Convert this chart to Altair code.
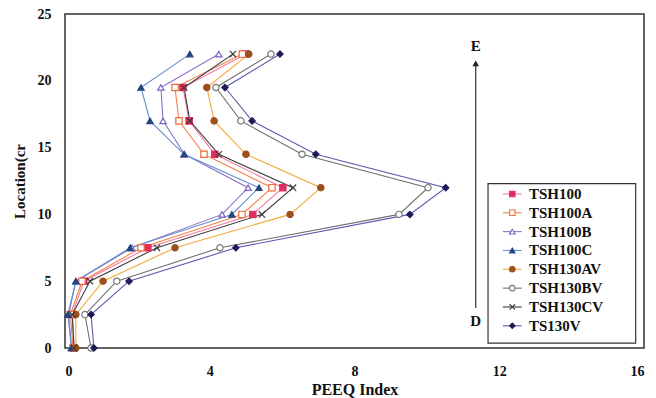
import altair as alt
import pandas as pd

# Depth positions along the section (cm)
locations = [0, 2.5, 5, 7.5, 10, 12, 14.5, 17, 19.5, 22]

series = ["TSH100", "TSH100A", "TSH100B", "TSH100C",
          "TSH130AV", "TSH130BV", "TSH130CV", "TS130V"]

# PEEQ index per specimen, listed in the same order as `locations`
tsh100 = [0.25, 0.2, 0.52, 2.29, 5.19, 6.02, 4.14, 3.43, 3.26, 5.0]
tsh100a = [0.22, 0.15, 0.47, 2.1, 4.89, 5.72, 3.84, 3.15, 3.04, 4.9]
tsh100b = [0.18, 0.1, 0.3, 1.85, 4.34, 5.06, 3.3, 2.71, 2.65, 4.25]
tsh100c = [0.18, 0.08, 0.3, 1.8, 4.61, 5.36, 3.29, 2.35, 2.1, 3.45]
tsh130av = [0.3, 0.3, 1.05, 3.04, 6.22, 7.07, 5.0, 4.12, 3.92, 5.08]
tsh130bv = [0.72, 0.55, 1.43, 4.28, 9.23, 10.03, 6.55, 4.86, 4.17, 5.69]
tsh130cv = [0.25, 0.2, 0.69, 2.54, 5.44, 6.3, 4.25, 3.45, 3.29, 4.64]
ts130v = [0.8, 0.72, 1.77, 4.72, 9.53, 10.52, 6.93, 5.17, 4.42, 5.94]

values = [tsh100, tsh100a, tsh100b, tsh100c, tsh130av, tsh130bv, tsh130cv, ts130v]

line_colors = ["#f27a9c", "#f3824f", "#8a74c8", "#6a8fd0",
               "#f2a93a", "#707070", "#3c3c3c", "#5a5ab4"]
stroke_colors = ["#e0305f", "#ef6a36", "#7c62c2", "#24457f",
                 "#9c4f1e", "#777777", "#3a3a3a", "#1c1c58"]
fill_colors = ["#e0305f", "#ffffff", "#ffffff", "#24457f",
               "#9c4f1e", "#ffffff", "#ffffff", "#1c1c58"]
shapes = ["square", "square", "triangle-up", "triangle-up",
          "circle", "circle", "M-1,-1L1,1M-1,1L1,-1", "diamond"]

rows = []
for s, vals in zip(series, values):
    for loc, v in zip(locations, vals):
        rows.append({"series": s, "loc": loc, "peeq": v})
df = pd.DataFrame(rows)

FONT = "Liberation Serif"

x_scale = alt.Scale(domain=[0, 16], nice=False, zero=False)
y_scale = alt.Scale(domain=[0, 25], nice=False, zero=False)

color_line = alt.Color("series:N", scale=alt.Scale(domain=series, range=line_colors), legend=None)
stroke_pt = alt.Stroke("series:N", scale=alt.Scale(domain=series, range=stroke_colors), legend=None)
fill_pt = alt.Fill("series:N", scale=alt.Scale(domain=series, range=fill_colors), legend=None)
shape_pt = alt.Shape("series:N", scale=alt.Scale(domain=series, range=shapes), legend=None)

x_enc = alt.X("peeq:Q", scale=x_scale,
              axis=alt.Axis(title="PEEQ Index", values=[0, 4, 8, 12, 16], grid=False,
                            ticks=False, domain=False, labelPadding=16,
                            labelFont=FONT, labelFontSize=14, labelFontWeight="bold",
                            labelColor="#111", titleFont=FONT, titleFontSize=16,
                            titleFontWeight="bold", titleColor="#111", titlePadding=3))
y_enc = alt.Y("loc:Q", scale=y_scale,
              axis=alt.Axis(title="Location(cr", values=[0, 5, 10, 15, 20, 25], grid=False,
                            ticks=False, domain=False, labelPadding=14,
                            labelFont=FONT, labelFontSize=14, labelFontWeight="bold",
                            labelColor="#111", titleFont=FONT, titleFontSize=15,
                            titleFontWeight="bold", titleColor="#111", titlePadding=10))

lines = alt.Chart(df).mark_line(strokeWidth=1.1).encode(
    x=x_enc, y=y_enc, color=color_line, detail="series:N", order="loc:Q"
)
points = alt.Chart(df).mark_point(size=40, strokeWidth=1.2, filled=False, opacity=1).encode(
    x="peeq:Q", y="loc:Q", stroke=stroke_pt, fill=fill_pt, shape=shape_pt
)

# Direction arrow from D to E
arrow_x = [11.35]
arrow_from = [3.0]
arrow_to = [21.3]
arrow_df = pd.DataFrame({"x": arrow_x, "y1": arrow_from, "y2": arrow_to})
arrow_line = alt.Chart(arrow_df).mark_rule(color="#333", strokeWidth=1.2).encode(
    x="x:Q", y="y1:Q", y2="y2:Q")
arrow_head = alt.Chart(arrow_df).mark_point(shape="triangle-up", size=45, filled=True,
                                            color="#222", opacity=1).encode(
    x="x:Q", y="y2:Q")

end_labels = pd.DataFrame({"x": [11.35, 11.35], "y": [22.6, 2.0], "t": ["E", "D"]})
end_text = alt.Chart(end_labels).mark_text(font=FONT, fontSize=15, fontWeight="bold",
                                           color="#111").encode(
    x="x:Q", y="y:Q", text="t:N")

# Legend drawn in data coordinates
leg_top = 11.53
leg_step = 1.41
leg_df = pd.DataFrame({
    "series": series,
    "y": [leg_top - i * leg_step for i in range(len(series))],
    "x1": [12.1] * len(series),
    "x2": [12.62] * len(series),
    "xm": [12.36] * len(series),
    "xt": [12.82] * len(series),
})
box_df = pd.DataFrame({"x1": [11.69], "x2": [15.77], "y1": [0.37], "y2": [12.3]})
leg_box = alt.Chart(box_df).mark_rect(fill="white", stroke="#333", strokeWidth=1.2).encode(
    x="x1:Q", x2="x2:Q", y="y1:Q", y2="y2:Q")
leg_lines = alt.Chart(leg_df).mark_rule(strokeWidth=1.1).encode(
    x="x1:Q", x2="x2:Q", y="y:Q", color=color_line)
leg_pts = alt.Chart(leg_df).mark_point(size=30, strokeWidth=1.1, filled=False, opacity=1).encode(
    x="xm:Q", y="y:Q", stroke=stroke_pt, fill=fill_pt, shape=shape_pt)
leg_text = alt.Chart(leg_df).mark_text(align="left", baseline="middle", font=FONT,
                                       fontSize=15, fontWeight="bold",
                                       color="#111").encode(
    x="xt:Q", y="y:Q", text="series:N")

chart = alt.layer(
    lines, points, arrow_line, arrow_head, end_text,
    leg_box, leg_lines, leg_pts, leg_text
).properties(
    width=579, height=334,
    padding={"left": 65, "top": 14, "right": 12, "bottom": 50},
    autosize=alt.AutoSizeParams(type="none"),
    background="white",
).configure_view(stroke="#333", strokeWidth=1.5)

chart.save("out.html", embed_options={"renderer": "svg", "actions": False})
